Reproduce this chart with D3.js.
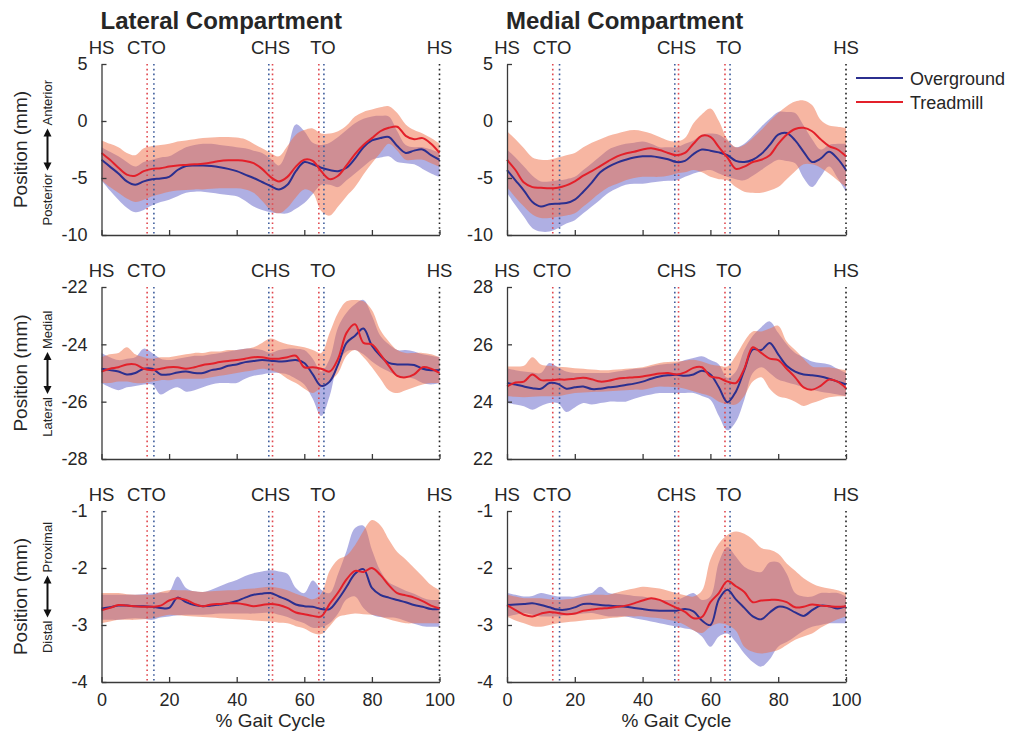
<!DOCTYPE html>
<html><head><meta charset="utf-8">
<script src="https://cdn.jsdelivr.net/npm/d3@7"></script>
<style>
body{margin:0;background:#fff}
text{font-family:Arial,"Liberation Sans",Helvetica,sans-serif;fill:#262626}
</style>
</head><body>
<svg id="c" width="1016" height="740"></svg>
<script>
// ---------------- DATA ----------------
const gait = [0,2.5,5,7.5,10,12.5,15,17.5,20,22.5,25,27.5,30,32.5,35,37.5,40,42.5,45,47.5,50,52.5,55,57.5,60,62.5,65,67.5,70,72.5,75,77.5,80,82.5,85,87.5,90,92.5,95,97.5,100];

// Lateral compartment, anterior/posterior
const latAP_tmMean = [-2.8,-3.4,-4.1,-4.7,-4.8,-4.4,-4.2,-4.15,-4.0,-3.9,-3.85,-3.8,-3.75,-3.65,-3.5,-3.45,-3.45,-3.5,-3.7,-4.2,-4.9,-5.3,-4.9,-4.0,-3.4,-3.5,-4.4,-5.1,-4.8,-3.9,-2.9,-2.1,-1.5,-0.9,-0.6,-0.5,-1.3,-1.6,-1.5,-2.0,-2.8];
const latAP_tmHi = [-1.7,-2.0,-2.3,-2.8,-3.0,-2.4,-2.2,-2.1,-2.0,-1.8,-1.7,-1.6,-1.5,-1.45,-1.4,-1.4,-1.45,-1.6,-2.0,-2.4,-2.8,-3.1,-2.2,-1.2,-0.8,-0.65,-1.1,-1.1,-0.9,-0.4,0.4,0.8,1.0,1.2,1.3,0.7,-0.3,-0.8,-1.1,-1.5,-2.0];
const latAP_tmLo = [-5.2,-5.8,-6.3,-6.8,-7.1,-6.9,-6.6,-6.4,-6.2,-6.1,-6.05,-6.0,-6.0,-5.95,-5.9,-5.9,-5.9,-6.0,-6.3,-7.0,-7.8,-8.1,-7.6,-6.7,-6.0,-6.3,-7.9,-8.3,-7.5,-6.6,-5.8,-4.7,-3.7,-2.8,-2.0,-2.6,-3.4,-3.4,-3.4,-3.7,-4.0];
const latAP_ogMean = [-3.4,-4.0,-4.6,-5.3,-5.6,-5.3,-5.1,-5.05,-4.9,-4.3,-3.95,-3.9,-3.9,-3.95,-4.05,-4.2,-4.4,-4.7,-5.0,-5.35,-5.7,-6.0,-5.6,-4.4,-3.6,-3.8,-4.1,-4.3,-4.4,-4.1,-3.3,-2.3,-1.7,-1.5,-1.4,-2.2,-2.8,-2.6,-2.5,-3.0,-3.4];
const latAP_ogHi = [-2.3,-2.7,-3.1,-3.6,-4.0,-3.6,-3.4,-3.2,-3.1,-2.7,-2.3,-2.1,-2.0,-2.0,-2.1,-2.2,-2.3,-2.4,-2.6,-2.8,-3.3,-3.9,-2.5,-0.3,-0.9,-1.9,-2.1,-1.9,-1.4,-0.8,-0.2,0.2,0.4,0.45,0.4,-0.9,-2.1,-2.3,-2.3,-2.5,-2.8];
const latAP_ogLo = [-5.2,-6.1,-6.9,-7.6,-8.0,-7.8,-7.4,-7.1,-6.9,-6.6,-6.3,-6.2,-6.2,-6.3,-6.4,-6.5,-6.6,-7.0,-7.5,-7.8,-8.0,-8.1,-8.1,-7.7,-7.2,-6.4,-5.6,-5.6,-5.8,-5.2,-4.6,-4.0,-3.4,-3.2,-3.1,-3.6,-3.7,-3.8,-4.2,-4.6,-4.9];

// Medial compartment, anterior/posterior
const medAP_tmMean = [-3.4,-4.3,-5.4,-5.8,-5.85,-5.9,-5.85,-5.65,-5.3,-4.8,-4.4,-3.95,-3.5,-3.1,-2.85,-2.7,-2.5,-2.4,-2.55,-2.8,-3.0,-2.8,-2.0,-1.3,-1.4,-2.3,-3.2,-4.2,-4.0,-3.6,-3.4,-3.0,-2.0,-1.2,-0.7,-0.6,-0.9,-1.6,-2.2,-2.5,-3.1];
const medAP_tmHi = [-0.9,-1.6,-2.4,-3.2,-3.4,-3.4,-3.2,-3.0,-2.8,-2.3,-1.9,-1.6,-1.3,-1.1,-0.9,-0.8,-0.9,-1.1,-1.4,-1.7,-1.8,-1.5,-0.2,0.6,1.1,0.0,-1.6,-2.3,-2.1,-1.5,-0.8,0.0,0.7,1.3,1.7,1.8,1.4,0.1,-0.4,-0.5,-0.6];
const medAP_tmLo = [-5.8,-6.7,-7.5,-8.2,-8.5,-8.5,-8.4,-8.3,-8.1,-7.5,-6.9,-6.3,-5.8,-5.5,-5.2,-5.0,-4.9,-4.9,-4.9,-4.8,-4.6,-4.5,-4.3,-4.5,-4.9,-5.1,-5.2,-5.8,-6.2,-6.3,-6.3,-6.1,-5.8,-5.1,-4.4,-3.8,-3.8,-4.1,-4.6,-5.2,-5.8];
const medAP_ogMean = [-4.3,-5.2,-6.1,-7.1,-7.5,-7.3,-7.25,-7.2,-6.9,-6.2,-5.4,-4.5,-4.0,-3.65,-3.4,-3.2,-3.1,-3.1,-3.2,-3.35,-3.6,-3.5,-2.9,-2.5,-2.6,-2.75,-3.0,-3.5,-3.6,-3.4,-2.9,-2.1,-1.2,-1.05,-1.7,-2.7,-3.6,-3.3,-2.7,-3.3,-4.3];
const medAP_ogHi = [-2.5,-3.2,-4.0,-4.8,-5.3,-5.3,-5.2,-5.1,-4.9,-4.3,-3.7,-3.1,-2.5,-2.2,-2.0,-1.9,-1.8,-2.0,-2.3,-2.3,-2.3,-2.0,-1.7,-1.2,-1.1,-1.2,-1.7,-2.3,-2.0,-1.3,-0.5,0.2,0.8,0.8,0.7,-0.4,-1.6,-2.5,-2.1,-2.0,-2.0];
const medAP_ogLo = [-6.3,-7.4,-8.4,-9.4,-9.7,-9.7,-9.4,-9.0,-8.7,-8.1,-7.5,-6.9,-6.3,-5.9,-5.6,-5.5,-5.5,-5.4,-5.3,-5.25,-5.2,-4.9,-4.6,-4.4,-4.3,-4.6,-4.9,-5.1,-5.2,-4.8,-4.3,-3.8,-3.4,-3.5,-3.7,-5.0,-5.8,-4.9,-4.0,-5.0,-6.2];

// Lateral compartment, medial/lateral
const latML_tmMean = [-24.95,-24.85,-24.8,-24.7,-24.7,-24.85,-24.9,-24.85,-24.8,-24.8,-24.85,-24.8,-24.72,-24.68,-24.62,-24.58,-24.55,-24.5,-24.45,-24.45,-24.5,-24.5,-24.45,-24.4,-24.8,-24.8,-24.85,-24.95,-24.5,-23.6,-23.3,-23.95,-24.0,-24.35,-24.75,-25.1,-25.15,-25.05,-24.8,-24.85,-25.0];
const latML_tmHi = [-24.45,-24.35,-24.3,-24.1,-24.35,-24.45,-24.5,-24.45,-24.45,-24.4,-24.35,-24.3,-24.3,-24.25,-24.25,-24.2,-24.2,-24.15,-24.1,-23.95,-23.8,-23.9,-24.0,-24.05,-24.1,-24.2,-24.3,-23.6,-22.9,-22.5,-22.45,-22.5,-22.8,-23.5,-23.9,-24.2,-24.3,-24.3,-24.3,-24.35,-24.45];
const latML_tmLo = [-25.35,-25.35,-25.3,-25.3,-25.35,-25.35,-25.3,-25.25,-25.25,-25.2,-25.2,-25.2,-25.2,-25.15,-25.1,-25.05,-25.0,-24.95,-24.9,-24.85,-24.9,-25.0,-25.2,-25.35,-25.55,-25.7,-25.5,-25.3,-25.0,-24.4,-24.2,-24.45,-24.8,-25.2,-25.6,-25.7,-25.6,-25.5,-25.4,-25.35,-25.35];
const latML_ogMean = [-24.85,-24.9,-24.95,-25.05,-25.0,-24.85,-24.85,-25.05,-25.05,-24.98,-24.95,-25.0,-25.0,-24.9,-24.85,-24.75,-24.7,-24.62,-24.58,-24.55,-24.57,-24.6,-24.58,-24.55,-24.65,-25.05,-25.45,-25.3,-24.7,-23.95,-23.7,-23.45,-24.05,-24.4,-24.65,-24.7,-24.7,-24.72,-24.85,-24.9,-24.9];
const latML_ogHi = [-24.3,-24.45,-24.55,-24.5,-24.45,-24.15,-24.3,-24.5,-24.55,-24.5,-24.45,-24.4,-24.4,-24.35,-24.3,-24.25,-24.2,-24.15,-24.15,-24.2,-24.3,-24.2,-24.15,-24.15,-24.2,-24.5,-24.95,-24.5,-23.4,-22.9,-22.6,-22.45,-23.0,-23.7,-24.0,-24.2,-24.2,-24.25,-24.35,-24.4,-24.45];
const latML_ogLo = [-25.35,-25.5,-25.6,-25.5,-25.45,-25.4,-25.4,-25.75,-25.6,-25.5,-25.65,-25.6,-25.5,-25.4,-25.35,-25.35,-25.35,-25.2,-25.1,-25.05,-25.0,-25.0,-25.05,-25.2,-25.4,-25.9,-26.5,-25.8,-24.65,-24.25,-24.2,-24.35,-24.6,-24.8,-24.95,-25.1,-25.15,-25.2,-25.35,-25.4,-25.35];

// Medial compartment, medial/lateral
const medML_tmMean = [24.53,24.67,24.7,24.95,24.75,24.75,24.77,24.77,24.8,24.83,24.78,24.7,24.73,24.8,24.83,24.85,24.88,24.93,24.98,25.0,24.95,25.02,25.18,25.2,24.88,24.83,24.7,24.65,25.15,25.9,25.7,25.5,25.45,25.15,24.85,24.5,24.42,24.55,24.77,24.7,24.47];
const medML_tmHi = [25.23,25.23,25.25,25.55,25.3,25.25,25.22,25.2,25.17,25.15,25.12,25.1,25.1,25.12,25.15,25.17,25.2,25.28,25.35,25.38,25.4,25.43,25.46,25.4,25.3,25.25,25.23,25.6,26.1,26.45,26.45,26.55,26.65,26.1,25.8,25.5,25.23,25.2,25.2,25.15,25.1];
const medML_tmLo = [24.19,24.17,24.15,24.17,24.19,24.19,24.19,24.25,24.3,24.32,24.34,24.35,24.36,24.38,24.4,24.42,24.42,24.48,24.53,24.52,24.5,24.45,24.36,24.28,24.19,24.0,23.92,23.9,24.2,24.7,24.85,24.45,24.19,24.12,24.0,23.85,23.95,24.05,24.15,24.19,24.19];
const medML_ogMean = [24.65,24.6,24.53,24.47,24.45,24.65,24.62,24.45,24.5,24.53,24.44,24.45,24.5,24.53,24.58,24.63,24.7,24.8,24.88,24.92,24.94,24.9,24.95,25.08,24.95,24.5,23.98,24.35,25.1,25.82,25.8,26.05,25.65,25.25,25.05,24.95,24.92,24.88,24.8,24.7,24.6];
const medML_ogHi = [25.17,25.1,25.05,25.02,25.0,25.35,25.2,25.05,25.0,25.0,25.0,25.0,25.0,25.05,25.1,25.15,25.17,25.23,25.29,25.32,25.35,25.45,25.52,25.58,25.45,25.3,24.83,25.05,25.8,26.3,26.6,26.8,26.4,26.0,25.7,25.55,25.4,25.35,25.3,25.15,25.0];
const medML_ogLo = [23.95,23.9,23.84,23.72,23.85,23.95,23.95,23.64,23.8,23.95,23.9,23.95,24.0,24.0,24.0,24.1,24.19,24.25,24.3,24.3,24.3,24.3,24.3,24.2,24.07,23.5,23.0,23.3,24.07,25.0,25.2,25.0,24.77,24.68,24.6,24.5,24.42,24.35,24.3,24.25,24.19];

// Lateral compartment, proximal/distal
const latPD_tmMean = [-2.74,-2.7,-2.65,-2.66,-2.67,-2.68,-2.68,-2.66,-2.57,-2.53,-2.56,-2.63,-2.67,-2.64,-2.63,-2.62,-2.62,-2.64,-2.67,-2.65,-2.63,-2.65,-2.7,-2.78,-2.81,-2.84,-2.85,-2.63,-2.43,-2.2,-2.05,-2.07,-2.0,-2.12,-2.3,-2.44,-2.48,-2.52,-2.58,-2.66,-2.71];
const latPD_tmHi = [-2.44,-2.44,-2.44,-2.46,-2.47,-2.47,-2.47,-2.42,-2.39,-2.39,-2.39,-2.41,-2.42,-2.41,-2.4,-2.39,-2.39,-2.37,-2.36,-2.34,-2.33,-2.35,-2.39,-2.45,-2.5,-2.55,-2.45,-2.05,-1.85,-1.78,-1.6,-1.35,-1.16,-1.25,-1.5,-1.72,-1.85,-2.0,-2.15,-2.3,-2.39];
const latPD_tmLo = [-2.97,-2.94,-2.91,-2.91,-2.91,-2.9,-2.88,-2.85,-2.82,-2.83,-2.84,-2.85,-2.86,-2.87,-2.88,-2.89,-2.9,-2.91,-2.92,-2.93,-2.94,-2.96,-2.97,-3.02,-3.06,-3.14,-3.16,-3.02,-2.86,-2.82,-2.8,-2.81,-2.82,-2.85,-2.9,-2.94,-2.97,-2.97,-2.97,-2.97,-2.97];
const latPD_ogMean = [-2.71,-2.69,-2.66,-2.66,-2.67,-2.67,-2.68,-2.7,-2.7,-2.52,-2.6,-2.65,-2.67,-2.66,-2.64,-2.62,-2.58,-2.52,-2.47,-2.45,-2.44,-2.5,-2.56,-2.64,-2.67,-2.68,-2.72,-2.72,-2.55,-2.33,-2.1,-2.02,-2.35,-2.47,-2.52,-2.56,-2.6,-2.65,-2.68,-2.72,-2.72];
const latPD_ogHi = [-2.47,-2.47,-2.47,-2.47,-2.47,-2.46,-2.44,-2.43,-2.42,-2.15,-2.35,-2.41,-2.42,-2.38,-2.32,-2.26,-2.21,-2.14,-2.09,-2.06,-2.04,-2.06,-2.1,-2.35,-2.44,-2.22,-2.38,-2.44,-2.1,-1.7,-1.3,-1.26,-1.68,-2.05,-2.25,-2.33,-2.4,-2.45,-2.52,-2.56,-2.56];
const latPD_ogLo = [-2.91,-2.91,-2.91,-2.89,-2.88,-2.89,-2.91,-2.87,-2.85,-2.83,-2.82,-2.82,-2.82,-2.81,-2.8,-2.8,-2.8,-2.8,-2.8,-2.79,-2.78,-2.82,-2.86,-2.92,-2.97,-3.05,-3.04,-2.97,-2.8,-2.55,-2.5,-2.7,-2.82,-2.86,-2.87,-2.88,-2.93,-2.98,-3.02,-3.03,-3.03];

// Medial compartment, proximal/distal
const medPD_tmMean = [-2.65,-2.74,-2.82,-2.85,-2.8,-2.77,-2.79,-2.81,-2.8,-2.75,-2.73,-2.71,-2.7,-2.68,-2.66,-2.62,-2.57,-2.53,-2.56,-2.63,-2.7,-2.77,-2.88,-2.86,-2.6,-2.44,-2.23,-2.32,-2.42,-2.6,-2.57,-2.56,-2.56,-2.6,-2.69,-2.68,-2.64,-2.66,-2.67,-2.68,-2.67];
const medPD_tmHi = [-2.47,-2.5,-2.53,-2.53,-2.53,-2.55,-2.56,-2.55,-2.53,-2.5,-2.47,-2.47,-2.47,-2.43,-2.39,-2.36,-2.33,-2.34,-2.36,-2.4,-2.44,-2.48,-2.5,-2.4,-1.85,-1.57,-1.42,-1.36,-1.4,-1.5,-1.65,-1.68,-1.75,-1.92,-2.05,-2.18,-2.27,-2.33,-2.36,-2.39,-2.44];
const medPD_tmLo = [-2.85,-2.92,-2.97,-3.02,-3.03,-3.0,-2.97,-2.95,-2.94,-2.92,-2.91,-2.9,-2.88,-2.87,-2.85,-2.85,-2.85,-2.87,-2.88,-2.91,-2.94,-3.0,-3.09,-3.14,-3.03,-2.97,-3.0,-3.1,-3.38,-3.47,-3.5,-3.48,-3.44,-3.35,-3.26,-3.2,-3.15,-3.05,-2.97,-2.9,-2.85];
const medPD_ogMean = [-2.65,-2.64,-2.63,-2.62,-2.65,-2.69,-2.73,-2.73,-2.69,-2.63,-2.63,-2.65,-2.66,-2.67,-2.68,-2.7,-2.72,-2.74,-2.75,-2.75,-2.75,-2.72,-2.76,-2.92,-3.0,-2.55,-2.38,-2.55,-2.7,-2.85,-2.9,-2.78,-2.68,-2.7,-2.78,-2.84,-2.74,-2.66,-2.67,-2.71,-2.67];
const medPD_ogHi = [-2.44,-2.47,-2.5,-2.49,-2.44,-2.47,-2.5,-2.5,-2.5,-2.46,-2.44,-2.33,-2.44,-2.45,-2.47,-2.49,-2.5,-2.53,-2.56,-2.56,-2.56,-2.5,-2.44,-2.56,-2.5,-1.9,-1.63,-1.8,-1.98,-2.05,-2.07,-1.9,-1.9,-2.1,-2.44,-2.5,-2.5,-2.44,-2.44,-2.44,-2.5];
const medPD_ogLo = [-2.85,-2.82,-2.79,-2.82,-2.85,-2.85,-2.85,-2.83,-2.82,-2.8,-2.79,-2.82,-2.85,-2.85,-2.85,-2.88,-2.91,-2.94,-2.97,-3.0,-3.03,-3.06,-3.09,-3.2,-3.38,-3.2,-3.15,-3.3,-3.5,-3.65,-3.73,-3.6,-3.38,-3.3,-3.2,-3.1,-3.03,-3.0,-2.97,-2.97,-2.97];

// Axis ticks
const xTicks = [0,20,40,60,80,100];
const yTicksAP = [-10,-5,0,5];
const yTicksLatML = [-28,-26,-24,-22];
const yTicksMedML = [22,24,26,28];
const yTicksPD = [-4,-3,-2,-1];

// Gait events (% gait cycle)
const eventLabels = ["HS","CTO","CHS","TO","HS"];
const eventLabelPos = [0,13.3,50,65.5,100];
const treadmillEvents = [13.5,50.6,64.3];
const overgroundEvents = [15.5,49.5,65.8];
const strideEnd = [100];

const colTitles = ["Lateral Compartment","Medial Compartment"];
const rowDirections = [["Posterior","Anterior"],["Lateral","Medial"],["Distal","Proximal"]];
const seriesNames = ["Overground","Treadmill"];

// ---------------- DRAW ----------------
const C_OG = "#2b2f8f", C_TM = "#e3202a";
const BAND_OG = "rgb(95,95,200)", BAND_TM = "rgb(240,110,70)";
const svg = d3.select("#c");

const colX = [[101.5,439.5],[507,846]];
const rowY = [[64,235],[287,459],[511,682]];

const panels = [
  {r:0,c:0,ticks:yTicksAP, og:[latAP_ogMean,latAP_ogLo,latAP_ogHi], tm:[latAP_tmMean,latAP_tmLo,latAP_tmHi]},
  {r:0,c:1,ticks:yTicksAP, og:[medAP_ogMean,medAP_ogLo,medAP_ogHi], tm:[medAP_tmMean,medAP_tmLo,medAP_tmHi]},
  {r:1,c:0,ticks:yTicksLatML, og:[latML_ogMean,latML_ogLo,latML_ogHi], tm:[latML_tmMean,latML_tmLo,latML_tmHi]},
  {r:1,c:1,ticks:yTicksMedML, og:[medML_ogMean,medML_ogLo,medML_ogHi], tm:[medML_tmMean,medML_tmLo,medML_tmHi]},
  {r:2,c:0,ticks:yTicksPD, og:[latPD_ogMean,latPD_ogLo,latPD_ogHi], tm:[latPD_tmMean,latPD_tmLo,latPD_tmHi]},
  {r:2,c:1,ticks:yTicksPD, og:[medPD_ogMean,medPD_ogLo,medPD_ogHi], tm:[medPD_tmMean,medPD_tmLo,medPD_tmHi]}
];

const curve = d3.curveCatmullRom.alpha(0.5);

panels.forEach(p => {
  const x = d3.scaleLinear().domain([0,100]).range(colX[p.c]);
  const y = d3.scaleLinear().domain(d3.extent(p.ticks)).range([rowY[p.r][1], rowY[p.r][0]]);
  const g = svg.append("g");

  const area = (lo,hi) => d3.area().x((d,i)=>x(gait[i])).y0((d,i)=>y(lo[i])).y1((d,i)=>y(hi[i])).curve(curve)(gait);
  const line = (m) => d3.line().x((d,i)=>x(gait[i])).y((d,i)=>y(m[i])).curve(curve)(gait);

  g.append("path").attr("d", area(p.og[1],p.og[2])).attr("fill",BAND_OG).attr("fill-opacity",0.5);
  g.append("path").attr("d", area(p.tm[1],p.tm[2])).attr("fill",BAND_TM).attr("fill-opacity",0.5);

  // event lines
  const vline = (v,col) => g.append("line").attr("x1",x(v)).attr("x2",x(v))
      .attr("y1",y.range()[1]).attr("y2",y.range()[0])
      .attr("stroke",col).attr("stroke-width",1.6).attr("stroke-dasharray","1.6,3.2");
  treadmillEvents.forEach(v=>vline(v,"#e0474e"));
  overgroundEvents.forEach(v=>vline(v,"#3f5d9c"));
  strideEnd.forEach(v=>vline(v,"#222"));

  g.append("path").attr("d", line(p.og[0])).attr("fill","none").attr("stroke",C_OG).attr("stroke-width",2);
  g.append("path").attr("d", line(p.tm[0])).attr("fill","none").attr("stroke",C_TM).attr("stroke-width",2);

  // axes
  const ax = g.append("g").attr("transform",`translate(0,${y.range()[0]})`)
    .call(d3.axisBottom(x).tickValues(xTicks).tickSizeInner(-5).tickSizeOuter(0).tickPadding(11)
      .tickFormat(p.r===2 ? (d=>String(d)) : ()=>""));
  const ay = g.append("g").attr("transform",`translate(${x.range()[0]},0)`)
    .call(d3.axisLeft(y).tickValues(p.ticks).tickSizeInner(-5).tickSizeOuter(0).tickPadding(14)
      .tickFormat(d=>String(d)));
  [ax,ay].forEach(a=>{
    a.select(".domain").attr("stroke","#3a3a3a").attr("stroke-width",1.3);
    a.selectAll(".tick line").attr("stroke","#3a3a3a").attr("stroke-width",1.3);
    a.selectAll("text").attr("font-size",18).attr("fill","#262626").attr("font-family",null);
  });

  // event labels
  eventLabels.forEach((t,i)=>{
    g.append("text").attr("x",x(eventLabelPos[i])).attr("y",rowY[p.r][0]-10)
      .attr("text-anchor","middle").attr("font-size",18.5).text(t);
  });

  if (p.r===2) {
    g.append("text").attr("x",(colX[p.c][0]+colX[p.c][1])/2).attr("y",727)
      .attr("text-anchor","middle").attr("font-size",19).text("% Gait Cycle");
  }

  if (p.c===0) {
    const cy = (rowY[p.r][0]+rowY[p.r][1])/2;
    g.append("text").attr("transform",`translate(27,${cy}) rotate(-90)`)
      .attr("text-anchor","middle").attr("font-size",19).text("Position (mm)");
    const lowT = rowDirections[p.r][0], highT = rowDirections[p.r][1];
    const gx = 52, arrowHalf = 21;
    g.append("text").attr("transform",`translate(${gx},${cy+arrowHalf+3}) rotate(-90)`)
      .attr("text-anchor","end").attr("font-size",13).text(lowT);
    g.append("text").attr("transform",`translate(${gx},${cy-arrowHalf-3}) rotate(-90)`)
      .attr("text-anchor","start").attr("font-size",13).text(highT);
    const ax0 = gx-4.5;
    g.append("line").attr("x1",ax0).attr("x2",ax0).attr("y1",cy-arrowHalf+6).attr("y2",cy+arrowHalf-6)
      .attr("stroke","#111").attr("stroke-width",2);
    g.append("path").attr("d",`M${ax0},${cy-arrowHalf} l-4,8 l8,0 z`).attr("fill","#111");
    g.append("path").attr("d",`M${ax0},${cy+arrowHalf} l-4,-8 l8,0 z`).attr("fill","#111");
  }
});

// column titles
colTitles.forEach((t,i)=>{
  svg.append("text").attr("x",colX[i][0]-1).attr("y",29).attr("font-size",24).attr("font-weight","bold").text(t);
});

// legend
const leg = svg.append("g");
[C_OG,C_TM].forEach((col,i)=>{
  const yy = 78 + i*24;
  leg.append("line").attr("x1",856).attr("x2",903).attr("y1",yy).attr("y2",yy).attr("stroke",col).attr("stroke-width",2);
  leg.append("text").attr("x",910).attr("y",yy+6.5).attr("font-size",18).text(seriesNames[i]);
});
</script>
</body></html>
